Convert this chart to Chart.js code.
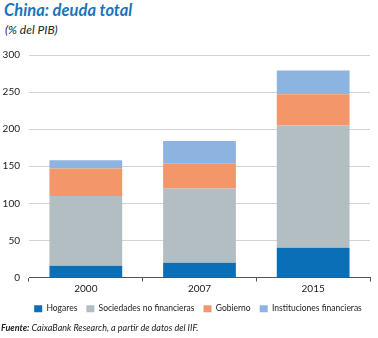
<!DOCTYPE html>
<html lang="es">
<head>
  <meta charset="UTF-8" />
  <title>China: deuda total</title>
  <script src="https://cdn.jsdelivr.net/npm/chart.js"></script>
  <style>
    body { margin: 0; width: 378px; height: 338px; position: relative; background: #fff; font-family: Lato, "Noto Sans", sans-serif; overflow: hidden; }
    #title { position: absolute; left: 4px; top: 0px; font-size: 16.5px; font-weight: bold; font-style: italic; color: #1a75bc; }
    #subtitle { position: absolute; left: 5px; top: 22px; font-size: 12px; font-style: italic; color: #222; }
    #chartBox { position: absolute; left: 0; top: 40px; width: 378px; height: 283px; }
    #source { position: absolute; left: 1px; top: 322px; font-size: 9px; font-style: italic; color: #222; }
  </style>
</head>
<body>

<div id="title">China: deuda total</div>
<div id="subtitle">(% del PIB)</div>
<div id="chartBox"><canvas id="deudaChart"></canvas></div>
<div id="source"><b>Fuente:</b> CaixaBank Research, a partir de datos del IIF.</div>

<script>
// data (% of GDP)
const years = ['2000', '2007', '2015'];
const hogares = [16, 20, 40];
const sociedades = [94, 100, 165];
const gobierno = [37, 34, 42];
const instituciones = [11, 30, 32];
const yTicks = [0, 50, 100, 150, 200, 250, 300];

// nudge the legend a bit to the right, as in the original
const legendShift = {
  id: 'legendShift',
  afterLayout(chart) {
    if (chart.legend) {
      chart.legend.left += 13;
      chart.legend.right += 13;
    }
  }
};

const ctx = document.getElementById('deudaChart').getContext('2d');
const deudaChart = new Chart(ctx, {
  type: 'bar',
  data: {
    labels: years,
    datasets: [
      { label: 'Hogares', data: hogares, backgroundColor: '#0a6fb7' },
      { label: 'Sociedades no financieras', data: sociedades, backgroundColor: '#b3bec3' },
      { label: 'Gobierno', data: gobierno, backgroundColor: '#f3976b' },
      { label: 'Instituciones financieras', data: instituciones, backgroundColor: '#8db3e0' }
    ]
  },
  options: {
    responsive: true,
    maintainAspectRatio: false,
    animation: false,
    layout: { padding: { top: 14, right: 8, left: 0, bottom: 0 } },
    datasets: {
      bar: { categoryPercentage: 1, barPercentage: 0.64, borderWidth: 0 }
    },
    scales: {
      x: {
        stacked: true,
        grid: { offset: true, drawOnChartArea: false, tickLength: 4, color: '#555' },
        border: { color: '#555', width: 1 },
        ticks: { padding: 1, color: '#222', font: { family: 'Lato', size: 10 } }
      },
      y: {
        stacked: true,
        min: 0,
        max: 300,
        afterBuildTicks: scale => { scale.ticks = yTicks.map(v => ({ value: v })); },
        afterFit: scale => { scale.width = 29; },
        grid: { color: '#d3d3d3', drawTicks: false },
        border: { display: false },
        ticks: { padding: 9, color: '#222', font: { family: 'Lato', size: 10 } }
      }
    },
    plugins: {
      legend: {
        position: 'bottom',
        labels: {
          boxWidth: 8,
          boxHeight: 7,
          padding: 9,
          color: '#222',
          font: { family: 'Lato', size: 8.5 }
        }
      },
      tooltip: { enabled: false }
    }
  },
  plugins: [legendShift]
});
</script>
</body>
</html>
